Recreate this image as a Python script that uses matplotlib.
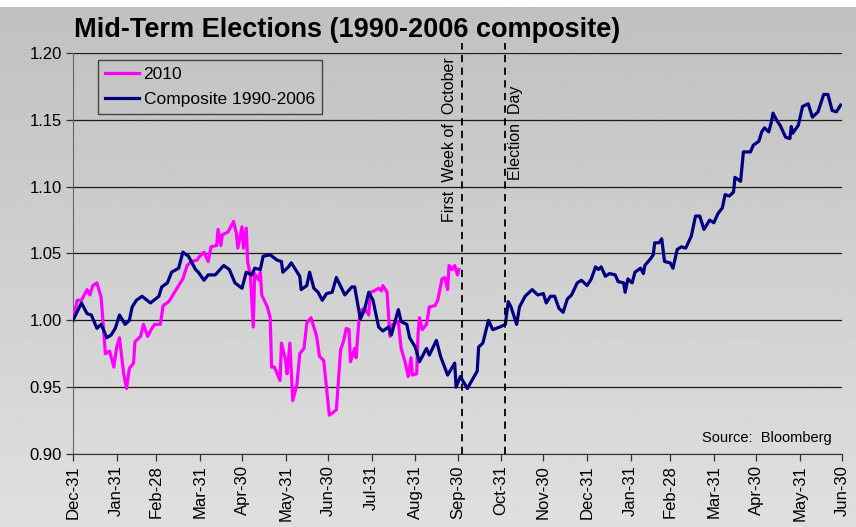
import numpy as np
import pandas as pd
import matplotlib
matplotlib.use('Agg')
import matplotlib.pyplot as plt
import matplotlib.dates as mdates
from matplotlib.lines import Line2D

plt.rcParams['font.family'] = ['Liberation Sans', 'DejaVu Sans']

# days counted from Dec-31-2009
base = pd.Timestamp('2009-12-31')

comp_days = [0, 6, 10, 13, 17, 20, 24, 27, 30, 33, 37, 40, 42, 45, 49, 55, 61, 63, 67, 70,
             75, 78, 82, 87, 89, 93, 96, 101, 107, 111, 115, 120, 123, 127, 129, 133, 135,
             140, 145, 148, 149, 153, 155, 158, 161, 162, 166, 168, 171, 174, 177, 180, 184,
             187, 193, 198, 200, 204, 207, 210, 213, 217, 220, 224, 226, 231, 233, 237, 239,
             243, 246, 251, 253, 258, 261, 266, 271, 272, 275, 280, 287, 288, 291, 295, 298,
             303, 307, 309, 311, 315, 317, 321, 326, 330, 334, 336, 339, 342, 345, 348, 351,
             354, 358, 361, 365, 368, 371, 373, 375, 378, 381, 385, 387, 391, 392, 394, 397,
             399, 403, 405, 406, 410, 412, 413, 416, 418, 420, 424, 426, 429, 432, 435, 439,
             442, 445, 448, 452, 455, 458, 461, 463, 466, 469, 470, 474, 476, 481, 483, 487,
             489, 491, 494, 496, 497, 500, 502, 506, 509, 510, 511, 515, 518, 522, 525, 529,
             533, 536, 539, 542, 545]
comp_vals = [1.000, 1.013, 1.005, 1.004, 0.994, 0.997, 0.987, 0.989, 0.994, 1.004, 0.997,
             1.000, 1.010, 1.015, 1.018, 1.013, 1.018, 1.025, 1.028, 1.036, 1.039, 1.051,
             1.048, 1.038, 1.036, 1.030, 1.034, 1.034, 1.041, 1.038, 1.028, 1.024, 1.036,
             1.034, 1.039, 1.038, 1.048, 1.049, 1.045, 1.044, 1.036, 1.040, 1.043, 1.038,
             1.033, 1.023, 1.026, 1.036, 1.024, 1.021, 1.015, 1.020, 1.021, 1.032, 1.019,
             1.025, 1.025, 1.001, 1.008, 1.021, 1.015, 0.995, 0.992, 0.995, 0.989, 1.008,
             0.999, 0.997, 0.987, 0.980, 0.969, 0.979, 0.974, 0.985, 0.973, 0.959, 0.968,
             0.950, 0.958, 0.949, 0.962, 0.980, 0.983, 1.000, 0.993, 0.995, 0.997, 1.014,
             1.010, 0.997, 1.010, 1.018, 1.023, 1.019, 1.020, 1.013, 1.018, 1.018, 1.009,
             1.006, 1.016, 1.019, 1.028, 1.030, 1.026, 1.031, 1.040, 1.038, 1.040, 1.033,
             1.035, 1.034, 1.029, 1.028, 1.021, 1.031, 1.028, 1.036, 1.039, 1.035, 1.041,
             1.046, 1.049, 1.058, 1.058, 1.061, 1.044, 1.043, 1.039, 1.053, 1.055, 1.054,
             1.063, 1.078, 1.078, 1.068, 1.075, 1.073, 1.080, 1.084, 1.094, 1.093, 1.096,
             1.107, 1.104, 1.126, 1.126, 1.131, 1.134, 1.141, 1.144, 1.141, 1.149, 1.155,
             1.149, 1.146, 1.137, 1.136, 1.145, 1.140, 1.146, 1.160, 1.162, 1.152, 1.156,
             1.169, 1.169, 1.157, 1.156, 1.161]

y2010_days = [0, 3, 6, 10, 12, 14, 17, 20, 23, 26, 29, 31, 33, 36, 38, 40, 43, 44, 48, 50,
              53, 56, 58, 62, 64, 68, 71, 75, 78, 81, 84, 88, 90, 93, 96, 98, 102, 103, 105,
              106, 110, 114, 116, 117, 120, 121, 123, 124, 126, 128, 129, 132, 133, 134, 138,
              140, 141, 143, 147, 148, 151, 152, 154, 156, 159, 161, 164, 166, 169, 173, 175,
              178, 182, 187, 190, 192, 194, 196, 197, 200, 201, 203, 205, 207, 210, 211, 214,
              217, 219, 220, 223, 225, 227, 231, 233, 236, 238, 240, 241, 244, 245, 246, 248,
              251, 253, 257, 259, 262, 264, 266, 267, 269, 271, 273, 274]
y2010_vals = [1.000, 1.015, 1.015, 1.023, 1.019, 1.026, 1.028, 1.017, 0.975, 0.977, 0.965,
              0.980, 0.987, 0.960, 0.949, 0.964, 0.968, 0.984, 0.988, 0.997, 0.988, 0.994,
              0.997, 0.997, 1.011, 1.014, 1.019, 1.026, 1.031, 1.041, 1.044, 1.045, 1.048,
              1.051, 1.044, 1.055, 1.056, 1.068, 1.056, 1.064, 1.066, 1.074, 1.065, 1.054,
              1.070, 1.054, 1.069, 1.044, 1.033, 0.995, 1.035, 1.030, 1.036, 1.019, 1.010,
              1.002, 0.965, 0.965, 0.955, 0.983, 0.970, 0.960, 0.983, 0.940, 0.952, 0.975,
              0.979, 0.998, 1.002, 0.988, 0.973, 0.970, 0.929, 0.933, 0.978, 0.984, 0.994,
              0.993, 0.969, 0.979, 0.972, 1.000, 1.008, 1.009, 1.004, 1.021, 1.022, 1.024,
              1.022, 1.026, 1.021, 0.988, 0.997, 0.999, 0.979, 0.968, 0.958, 0.972, 0.959,
              0.960, 0.990, 1.002, 0.993, 0.997, 1.010, 1.011, 1.015, 1.031, 1.032, 1.023,
              1.041, 1.038, 1.041, 1.034, 1.038]

event_dates = ['2010-10-03', '2010-11-03']
event_labels = ['First  Week of  October', 'Election  Day']
y_ticks = [0.90, 0.95, 1.00, 1.05, 1.10, 1.15, 1.20]

comp_x = [base + pd.Timedelta(days=d) for d in comp_days]
y2010_x = [base + pd.Timedelta(days=d) for d in y2010_days]

W, H = 856, 527
fig = plt.figure(figsize=(W / 100, H / 100), dpi=100, facecolor='white')

# gray gradient background (white strip at the very top)
bg = fig.add_axes([0, 0, 1, 1 - 7 / H], zorder=0)
grad = np.linspace(0.755, 0.875, 256).reshape(-1, 1)
bg.imshow(grad, cmap='gray', vmin=0, vmax=1, aspect='auto',
          extent=[0, 1, 1, 0])
bg.set_axis_off()

ax = fig.add_axes([73 / W, (H - 454) / H, (842 - 73) / W, (454 - 53) / H], zorder=1)
ax.set_facecolor('none')

ax.plot(y2010_x, y2010_vals, color='#FF00FF', lw=2.3, solid_joinstyle='round', zorder=3)
ax.plot(comp_x, comp_vals, color='#000080', lw=2.3, solid_joinstyle='round', zorder=4)

ax.set_xlim(base, pd.Timestamp('2011-06-30'))
ax.set_ylim(0.90, 1.20)
ax.set_yticks(y_ticks)
ax.yaxis.set_major_formatter(matplotlib.ticker.FormatStrFormatter('%.2f'))
ax.grid(axis='y', color='#1a1a1a', lw=0.9)
ax.set_axisbelow(True)

month_ends = pd.date_range(base, periods=19, freq=pd.offsets.MonthEnd())
ax.set_xticks(month_ends)
ax.xaxis.set_major_formatter(mdates.DateFormatter('%b-%d'))
plt.setp(ax.get_xticklabels(), rotation=90)
ax.tick_params(axis='both', labelsize=12, length=5, width=0.9, color='#333333', pad=3)

for s in ['top', 'right']:
    ax.spines[s].set_visible(False)
ax.spines['left'].set_color('#666666')
ax.spines['bottom'].set_color('#333333')

# event lines and labels
for d, lab, dx, ybot in zip(event_dates, event_labels, [-9, 7.5], [1.0736, 1.105]):
    t = pd.Timestamp(d)
    ax.axvline(t, ymin=0, ymax=1.025, color='black', lw=1.3, ls=(0, (4, 3)),
               clip_on=False, zorder=5)
    ax.annotate(lab, xy=(t, ybot), xytext=(dx, 0), textcoords='offset points',
                rotation=90, ha='center', va='bottom', fontsize=11.5, zorder=6,
                clip_on=True)

handles = [Line2D([], [], color='#FF00FF', lw=2.3),
           Line2D([], [], color='#000080', lw=2.3)]
leg = ax.legend(handles, ['2010', 'Composite 1990-2006'], loc='upper left',
                bbox_to_anchor=(0.032, 0.983), fontsize=12.5, frameon=True, fancybox=False,
                handlelength=2.0, handletextpad=0.25, labelspacing=0.6, borderpad=0.4,
                borderaxespad=0)
leg.get_frame().set_edgecolor('#222222')
leg.get_frame().set_facecolor('none')
leg.get_frame().set_linewidth(1.0)

ax.text(0.987, 0.03, 'Source:  Bloomberg', transform=ax.transAxes, ha='right',
        va='baseline', fontsize=10.5)

fig.text(74 / W, 1 - 37 / H, 'Mid-Term Elections (1990-2006 composite)', fontsize=19.5,
         fontweight='bold', va='baseline', ha='left')

fig.savefig('out.png', dpi=100)
